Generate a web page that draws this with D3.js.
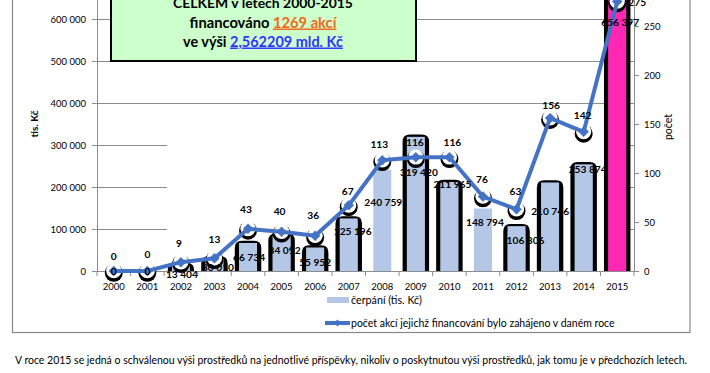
<!DOCTYPE html>
<html><head><meta charset="utf-8">
<script src="https://cdn.jsdelivr.net/npm/d3@7/dist/d3.min.js"></script>
<style>
body{margin:0;background:#fff;}
svg{display:block;font-family:Lato,"Open Sans",sans-serif;}
</style></head>
<body>
<svg id="c" width="710" height="373"></svg>
<script>
// ---- data ----
const years = ["2000","2001","2002","2003","2004","2005","2006","2007","2008","2009","2010","2011","2012","2013","2014","2015"];
const cerpani = [0,0,13404,30010,66734,84092,55952,125196,240759,319420,211965,148794,106806,210746,253874,656397];
const pocet = [0,0,9,13,43,40,36,67,113,116,116,76,63,156,142,275];
const leftTicks = [0,100000,200000,300000,400000,500000,600000];
const rightTicks = [0,50,100,150,200,250];
const outlined = [false,false,true,true,true,true,true,true,false,true,true,false,true,true,true,true];
const highlighted = [false,false,false,false,false,false,false,false,false,false,false,false,false,false,false,true];
// label nudges (layout only)
const barLabelNudge = [[0,0],[0,0],[1,9],[3.5,8.6],[1,14],[3,15],[0,14.5],[4,13.5],[1,33],[3,36],[3,2],[2,13.5],[9,14],[0,29],[4,5],[3,27]];
const countLabelNudge = [[0,-15],[0,-17],[-2,-19],[0,-19],[-2,-19],[-2,-20],[-2,-20],[-1,-14],[-3,-16],[-1,-15],[3,-15],[-1,-17],[-1,-18],[1,-13],[-1,-16],[20,1]];
const seriesNames = ["čerpání (tis. Kč)","počet akcí jejichž financování bylo zahájeno v daném roce"];
const boxLines = ["CELKEM v letech 2000-2015","financováno ","1269 akcí","ve výši ","2,562209 mld. Kč"];
const axisTitles = ["tis. Kč","počet"];
const note = "V roce 2015 se jedná o schválenou výši prostředků na jednotlivé příspěvky, nikoliv o poskytnutou výši prostředků, jak tomu je v předchozích letech.";

// ---- setup ----
const svg = d3.select("#c");
const L = 97, R = 634, B = 271, T = -23;
const loc = d3.formatLocale({decimal:",",thousands:" ",grouping:[3],currency:["",""]});
const fmt = loc.format(",d");
const x = d3.scaleBand().domain(years).range([L,R]).paddingInner(0.464).paddingOuter(0.232);
const yL = d3.scaleLinear().domain([0,700000]).range([B,T]);
const yR = d3.scaleLinear().domain([0,300]).range([B,T]);
const cx = i => x(years[i]) + x.bandwidth()/2;
const BLUE = "#B4C7E7", PINK = "#FF27B4", LINE = "#4472C4";

function fitWidth(sel, w){
  const n = sel.node(); const len = n.getComputedTextLength();
  const fs = parseFloat(sel.attr("font-size"));
  sel.attr("font-size", fs*w/len);
}

// chart border
svg.append("rect").attr("x",12.5).attr("y",-10).attr("width",677.5).attr("height",342.5)
  .attr("fill","none").attr("stroke","#888").attr("stroke-width",1.2);

// gridlines
leftTicks.filter(v=>v>0).forEach(v=>{
  const yy = Math.round(yL(v))+0.5;
  const segs = v>=400000 ? [[L,R]] : [[L,167],[629,R]];
  segs.forEach(s=>svg.append("line").attr("x1",s[0]).attr("x2",s[1]).attr("y1",yy).attr("y2",yy)
    .attr("stroke","#8c8c8c").attr("stroke-width",1));
});

// axes
const axL = svg.append("g").attr("transform",`translate(${L},0)`)
  .call(d3.axisLeft(yL).tickValues(leftTicks).tickSize(5).tickSizeOuter(0).tickFormat(fmt));
const axR = svg.append("g").attr("transform",`translate(${R},0)`)
  .call(d3.axisRight(yR).tickValues(rightTicks).tickSize(5).tickSizeOuter(0));
const axX = svg.append("g").attr("transform",`translate(0,${B})`)
  .call(d3.axisBottom(x).tickSize(0).tickSizeOuter(0));
[axL,axR,axX].forEach(a=>{
  a.selectAll("path.domain").attr("stroke","#8c8c8c");
  a.selectAll("line").attr("stroke","#8c8c8c");
  a.selectAll("text").attr("font-family","Lato,sans-serif").attr("font-size",9.5).attr("fill","#000");
});
axL.selectAll("text").attr("x",-11);
axR.selectAll("text").attr("x",10);
axX.selectAll("text").attr("y",12);
// category boundary ticks on x axis
svg.append("g").selectAll("line").data(d3.range(years.length+1)).join("line")
  .attr("x1",i=>L + i*x.step()).attr("x2",i=>L + i*x.step())
  .attr("y1",B).attr("y2",B+5).attr("stroke","#8c8c8c");

// axis titles
svg.append("text").attr("transform",`translate(38,124) rotate(-90)`).attr("text-anchor","middle")
  .attr("font-size",10).attr("font-weight","bold").text(axisTitles[0]);
svg.append("text").attr("transform",`translate(672,127) rotate(-90)`).attr("text-anchor","middle")
  .attr("font-size",10.5).text(axisTitles[1]);

// bars
const bw = x.bandwidth();
const gBars = svg.append("g");
cerpani.forEach((v,i)=>{
  const top = yL(v), x0 = x(years[i]);
  if(outlined[i] && v>0){
    const ox0 = x0-2, ox1 = x0+bw+2, r = 5;
    const p = `M${ox0},${B+1} V${top+r} Q${ox0},${top} ${ox0+r},${top} H${ox1-r} Q${ox1},${top} ${ox1},${top+r} V${B+1}`;
    gBars.append("path").attr("d",p).attr("fill",highlighted[i]?PINK:BLUE).attr("stroke","#000").attr("stroke-width",4.5);
  }
  gBars.append("rect").attr("x",x0).attr("y",top).attr("width",bw).attr("height",B-top)
    .attr("fill",highlighted[i]?PINK:BLUE);
});
// redraw axis baseline over bars
svg.append("line").attr("x1",L).attr("x2",R).attr("y1",B+0.5).attr("y2",B+0.5).attr("stroke","#8c8c8c");

// markers halos
const gM = svg.append("g");
pocet.forEach((c,i)=>{
  gM.append("circle").attr("cx",cx(i)).attr("cy",yR(c)+1.8).attr("r",9).attr("fill","#000");
  gM.append("circle").attr("cx",cx(i)).attr("cy",yR(c)-0.3).attr("r",7.6).attr("fill","#fff");
});
// line
const line = d3.line().x((d,i)=>cx(i)).y(d=>yR(d));
svg.append("path").datum(pocet).attr("d",line).attr("fill","none").attr("stroke",LINE)
  .attr("stroke-width",4).attr("stroke-linejoin","round");
// diamonds
const diamond = d3.symbol().type(d3.symbolDiamond2).size(70);
svg.append("g").selectAll("path").data(pocet).join("path")
  .attr("d",diamond).attr("transform",(d,i)=>`translate(${cx(i)},${yR(d)})`).attr("fill",LINE);

// bar labels
svg.append("g").selectAll("text").data(cerpani).join("text")
  .attr("x",(d,i)=>cx(i)+barLabelNudge[i][0]).attr("y",(d,i)=>yL(d)+barLabelNudge[i][1])
  .attr("dy","0.35em").attr("text-anchor","middle").attr("font-size",10.2).attr("font-weight","bold")
  .attr("fill","#000").text(d=>fmt(d));
// count labels
svg.append("g").selectAll("text").data(pocet).join("text")
  .attr("x",(d,i)=>cx(i)+countLabelNudge[i][0]).attr("y",(d,i)=>yR(d)+countLabelNudge[i][1])
  .attr("dy","0.35em").attr("text-anchor","middle").attr("font-size",10.2).attr("font-weight","bold")
  .attr("fill","#000").text(d=>d);

// info box
svg.append("rect").attr("x",111).attr("y",-30).attr("width",305).attr("height",91)
  .attr("fill","#CCFFCC").attr("stroke","#000").attr("stroke-width",2);
const t1 = svg.append("text").attr("x",263).attr("y",8).attr("text-anchor","middle")
  .attr("font-size",14).attr("font-weight","bold").text(boxLines[0]);
fitWidth(t1,180);
const t2 = svg.append("text").attr("x",263).attr("y",27.5).attr("text-anchor","middle")
  .attr("font-size",14).attr("font-weight","bold");
t2.append("tspan").text(boxLines[1]);
t2.append("tspan").attr("fill","#F26A1B").attr("text-decoration","underline").text(boxLines[2]);
fitWidth(t2,147);
const t3 = svg.append("text").attr("x",263).attr("y",46.5).attr("text-anchor","middle")
  .attr("font-size",14).attr("font-weight","bold");
t3.append("tspan").text(boxLines[3]);
t3.append("tspan").attr("fill","#3333FF").attr("text-decoration","underline").text(boxLines[4]);
fitWidth(t3,160);

// legend
svg.append("rect").attr("x",327).attr("y",297).attr("width",22).attr("height",6).attr("fill",BLUE);
const lg1 = svg.append("text").attr("x",351).attr("y",300).attr("dy","0.35em").attr("font-size",10).text(seriesNames[0]);
fitWidth(lg1,71);
svg.append("line").attr("x1",325).attr("x2",350).attr("y1",323).attr("y2",323).attr("stroke",LINE).attr("stroke-width",4);
svg.append("path").attr("d",d3.symbol().type(d3.symbolDiamond2).size(30)).attr("transform","translate(337.5,323)").attr("fill",LINE);
const lg2 = svg.append("text").attr("x",351).attr("y",323).attr("dy","0.35em").attr("font-size",10).text(seriesNames[1]);
fitWidth(lg2,264);

// note
const nt = svg.append("text").attr("x",15).attr("y",360).attr("dy","0.35em").attr("font-size",10).attr("fill","#000").text(note);
fitWidth(nt,673);
</script>
</body></html>
